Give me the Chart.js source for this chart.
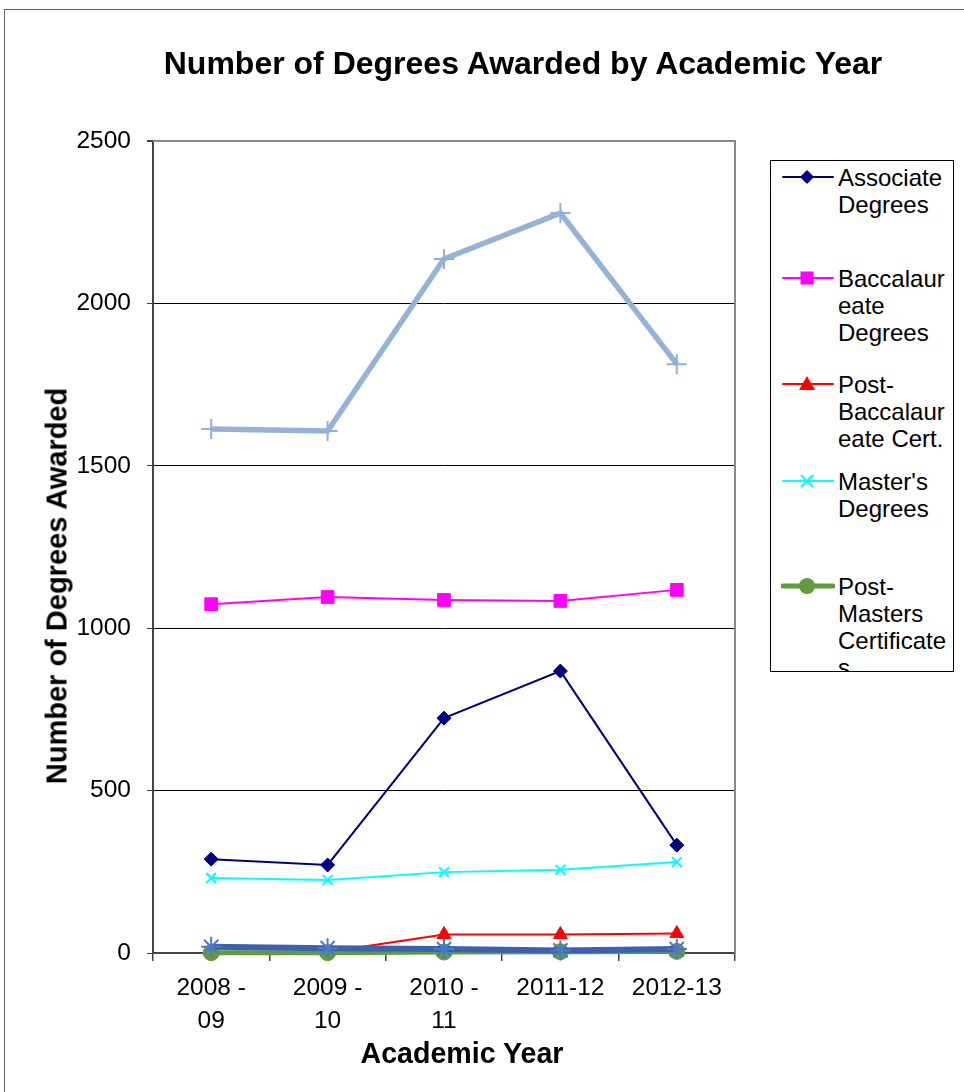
<!DOCTYPE html>
<html>
<head>
<meta charset="utf-8">
<script src="https://cdn.jsdelivr.net/npm/chart.js@4.4.1/dist/chart.umd.min.js"></script>
<style>
  body { margin:0; background:#fff; font-family:"Liberation Sans", Arial, sans-serif; }
  #wrap { position:relative; width:964px; height:1092px; overflow:hidden; }
  #frame { position:absolute; left:4px; top:9px; width:1100px; height:1200px; border:1px solid #666; box-sizing:border-box; }
  canvas { position:absolute; left:0; top:0; }
  .txt { position:absolute; color:#000; white-space:nowrap; line-height:1; }
  #title { left:123px; width:800px; top:47.4px; text-align:center; font-weight:bold; font-size:32px; }
  #xtitle { left:262px; width:400px; top:1039px; text-align:center; font-weight:bold; font-size:28.6px; }
  #ytitle { left:57px; top:586px; font-weight:bold; font-size:29px; transform:translate(-50%,-50%) rotate(-90deg); }
  #legend { position:absolute; left:770px; top:160px; width:184px; height:512px; border:1px solid #000; box-sizing:border-box; overflow:hidden; background:#fff; }
  .litem { position:absolute; left:0; }
  .litem svg { position:absolute; left:10px; top:3px; }
  .litem .ltxt { position:absolute; left:67px; top:0; font-size:24px; line-height:27px; white-space:nowrap; }
</style>
</head>
<body>
<div id="wrap">
  <div id="frame"></div>
  <canvas id="c" width="964" height="1092"></canvas>
  <div class="txt" id="title">Number of Degrees Awarded by Academic Year</div>
  <div class="txt" id="ytitle">Number of Degrees Awarded</div>
  <div class="txt" id="xtitle">Academic Year</div>
  <div id="legend"></div>
</div>
<script>
// academic years (x categories)
const years = [['2008 -','09'], ['2009 -','10'], ['2010 -','11'], '2011-12', '2012-13'];

// values
const associate     = [289, 271, 723, 868, 332];
const baccalaureate = [1074, 1096, 1087, 1084, 1118];
const postBaccCert  = [4, 3, 57, 57, 60];
const masters       = [231, 225, 249, 256, 280];
const postMasters   = [1, 1, 3, 4, 5];
const doctoral      = [19, 15, 12, 8, 12];
const total         = [1613, 1607, 2137, 2278, 1813];

const yTicks = [0, 500, 1000, 1500, 2000, 2500];

// series shown in the legend (the last two are cut off in the original)
const legendLines = [
  ['Associate','Degrees'],
  ['Baccalaur','eate','Degrees'],
  ['Post-','Baccalaur','eate Cert.'],
  ["Master's",'Degrees'],
  ['Post-','Masters','Certificate','s']
];
const legendTops = [16, 117, 223, 320, 425];

function ds(label, data, color, style, radius, width, order, ptBorder) {
  return {
    label: label, data: data, borderColor: color, backgroundColor: color,
    pointBackgroundColor: color, pointBorderColor: color,
    pointStyle: style, pointRadius: radius, pointHoverRadius: radius,
    pointBorderWidth: ptBorder || 1, borderWidth: width, order: order,
    tension: 0, fill: false, clip: false
  };
}

const datasets = [
  ds('Associate Degrees', associate, '#000080', 'rectRot', 7, 2, 6),
  ds('Baccalaureate Degrees', baccalaureate, '#FF00FF', 'rect', 9, 2, 5),
  ds('Post-Baccalaureate Cert.', postBaccCert, '#FF0000', 'triangle', 8, 2, 3),
  ds("Master's Degrees", masters, '#00FFFF', 'crossRot', 7, 2, 4, 2),
  ds('Post-Masters Certificates', postMasters, '#639A3B', 'circle', 8, 5, 2),
  ds('Doctoral Degrees', doctoral, '#3A62B0', 'star', 10, 6, 1, 2),
  ds('Total', total, '#95B3D7', 'cross', 10, 5.5, 0, 2)
];
datasets[5].pointBorderColor = '#4A78CC';
datasets[6].pointBorderColor = '#8DB0DC';

// plot frame: grey top/right edge like the original
const framePlugin = {
  id: 'frame',
  beforeDatasetsDraw(chart) {
    const a = chart.chartArea, ctx = chart.ctx;
    ctx.save();
    ctx.strokeStyle = '#888';
    ctx.lineWidth = 2;
    ctx.beginPath();
    ctx.moveTo(a.left, a.top);
    ctx.lineTo(a.right, a.top);
    ctx.lineTo(a.right, a.bottom);
    ctx.stroke();
    ctx.restore();
  }
};

new Chart(document.getElementById('c'), {
  type: 'line',
  data: { labels: years, datasets: datasets },
  options: {
    responsive: false,
    animation: false,
    layout: { padding: { left: 0, top: 141, right: 229, bottom: 0 } },
    plugins: { legend: { display: false }, title: { display: false }, tooltip: { enabled: false } },
    scales: {
      x: {
        offset: true,
        afterFit: s => { s.height = 139; },
        grid: { offset: true, drawOnChartArea: false, drawTicks: true, tickLength: 8, color: '#444', lineWidth: 1.5 },
        border: { color: '#444', width: 2 },
        ticks: { color: '#000', padding: 10, maxRotation: 0, autoSkip: false,
          font: { family: '"Liberation Sans", Arial', size: 24.5, lineHeight: 1.375 } }
      },
      y: {
        min: 0, max: 2500,
        afterFit: s => { s.width = 153; },
        afterBuildTicks: s => { s.ticks = yTicks.map(v => ({ value: v })); },
        grid: {
          color: c => c.tick && c.tick.value === 2500 ? '#888' : '#000',
          lineWidth: c => c.tick && c.tick.value === 2500 ? 2 : 1,
          tickLength: 6, tickColor: '#444'
        },
        border: { color: '#444', width: 2 },
        ticks: { color: '#000', padding: 16, callback: v => String(v),
          font: { family: '"Liberation Sans", Arial', size: 24.5 } }
      }
    }
  },
  plugins: [framePlugin]
});

// legend marker icons
function markerSvg(d) {
  const c = d.borderColor, w = d.borderWidth, cx = 26, cy = 10;
  let m = '';
  if (d.pointStyle === 'rectRot') m = `<polygon points="${cx},${cy-7} ${cx+7},${cy} ${cx},${cy+7} ${cx-7},${cy}" fill="${c}"/>`;
  else if (d.pointStyle === 'rect') m = `<rect x="${cx-6.5}" y="${cy-6.5}" width="13" height="13" fill="${c}"/>`;
  else if (d.pointStyle === 'triangle') m = `<polygon points="${cx},${cy-8} ${cx+8},${cy+6} ${cx-8},${cy+6}" fill="${c}"/>`;
  else if (d.pointStyle === 'crossRot') m = `<path d="M${cx-6} ${cy-6}L${cx+6} ${cy+6}M${cx+6} ${cy-6}L${cx-6} ${cy+6}" stroke="${c}" stroke-width="2"/>`;
  else if (d.pointStyle === 'circle') m = `<circle cx="${cx}" cy="${cy}" r="8" fill="${c}"/>`;
  return `<svg width="54" height="20"><line x1="2" y1="${cy}" x2="52" y2="${cy}" stroke="${c}" stroke-width="${w}" stroke-linecap="round"/>${m}</svg>`;
}

const leg = document.getElementById('legend');
legendLines.forEach((lines, i) => {
  const it = document.createElement('div');
  it.className = 'litem';
  it.style.top = (legendTops[i] - 13.5) + 'px';
  it.innerHTML = markerSvg(datasets[i]) + '<div class="ltxt">' + lines.join('<br>') + '</div>';
  leg.appendChild(it);
});
</script>
</body>
</html>
